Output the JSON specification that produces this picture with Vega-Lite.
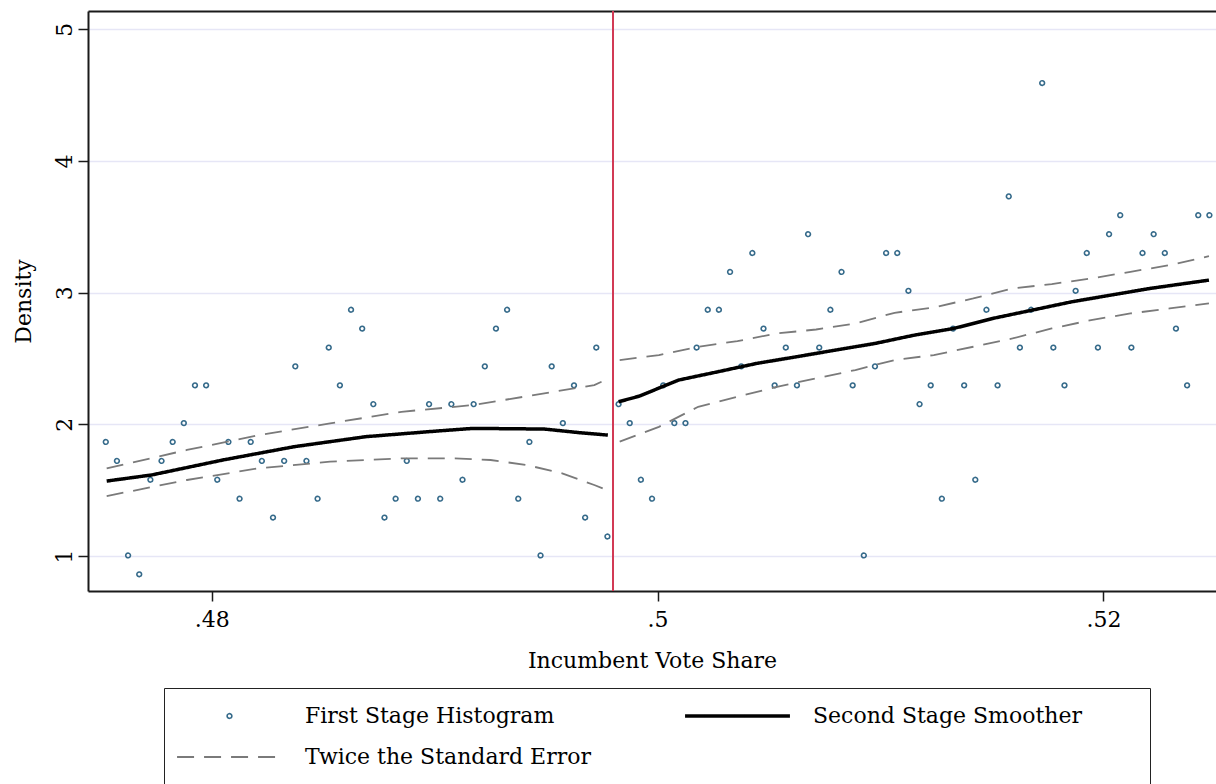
{
  "$schema": "https://vega.github.io/schema/vega-lite/v6.json",
  "width": 1128,
  "height": 580,
  "autosize": {"type": "none"},
  "padding": {"left": 88, "top": 11, "right": 0, "bottom": 193},
  "background": "white",
  "config": {
    "view": {"stroke": null},
    "font": "DejaVu Serif",
    "axis": {
      "labelFont": "DejaVu Serif",
      "titleFont": "DejaVu Serif",
      "labelColor": "black",
      "titleColor": "black",
      "labelFontSize": 22,
      "titleFontSize": 22,
      "titleFontWeight": "normal",
      "domainColor": "#1a1a1a",
      "domainWidth": 2,
      "tickColor": "#1a1a1a",
      "tickWidth": 1.5,
      "tickSize": 10
    }
  },
  "datasets": {
    "hist": [
      {"x": 0.47525, "y": 1.866}, {"x": 0.47575, "y": 1.722}, {"x": 0.47625, "y": 1.004}, {"x": 0.47675, "y": 0.861},
      {"x": 0.47725, "y": 1.579}, {"x": 0.47775, "y": 1.722}, {"x": 0.47825, "y": 1.866}, {"x": 0.47875, "y": 2.009},
      {"x": 0.47925, "y": 2.296}, {"x": 0.47975, "y": 2.296}, {"x": 0.48025, "y": 1.579}, {"x": 0.48075, "y": 1.866},
      {"x": 0.48125, "y": 1.435}, {"x": 0.48175, "y": 1.866}, {"x": 0.48225, "y": 1.722}, {"x": 0.48275, "y": 1.292},
      {"x": 0.48325, "y": 1.722}, {"x": 0.48375, "y": 2.44}, {"x": 0.48425, "y": 1.722}, {"x": 0.48475, "y": 1.435},
      {"x": 0.48525, "y": 2.583}, {"x": 0.48575, "y": 2.296}, {"x": 0.48625, "y": 2.87}, {"x": 0.48675, "y": 2.727},
      {"x": 0.48725, "y": 2.153}, {"x": 0.48775, "y": 1.292}, {"x": 0.48825, "y": 1.435}, {"x": 0.48875, "y": 1.722},
      {"x": 0.48925, "y": 1.435}, {"x": 0.48975, "y": 2.153}, {"x": 0.49025, "y": 1.435}, {"x": 0.49075, "y": 2.153},
      {"x": 0.49125, "y": 1.579}, {"x": 0.49175, "y": 2.153}, {"x": 0.49225, "y": 2.44}, {"x": 0.49275, "y": 2.727},
      {"x": 0.49325, "y": 2.87}, {"x": 0.49375, "y": 1.435}, {"x": 0.49425, "y": 1.866}, {"x": 0.49475, "y": 1.004},
      {"x": 0.49525, "y": 2.44}, {"x": 0.49575, "y": 2.009}, {"x": 0.49625, "y": 2.296}, {"x": 0.49675, "y": 1.292},
      {"x": 0.49725, "y": 2.583}, {"x": 0.49775, "y": 1.148},
      {"x": 0.49825, "y": 2.153}, {"x": 0.49875, "y": 2.009}, {"x": 0.49925, "y": 1.579}, {"x": 0.49975, "y": 1.435},
      {"x": 0.50025, "y": 2.296}, {"x": 0.50075, "y": 2.009}, {"x": 0.50125, "y": 2.009}, {"x": 0.50175, "y": 2.583},
      {"x": 0.50225, "y": 2.87}, {"x": 0.50275, "y": 2.87}, {"x": 0.50325, "y": 3.157}, {"x": 0.50375, "y": 2.44},
      {"x": 0.50425, "y": 3.301}, {"x": 0.50475, "y": 2.727}, {"x": 0.50525, "y": 2.296}, {"x": 0.50575, "y": 2.583},
      {"x": 0.50625, "y": 2.296}, {"x": 0.50675, "y": 3.444}, {"x": 0.50725, "y": 2.583}, {"x": 0.50775, "y": 2.87},
      {"x": 0.50825, "y": 3.157}, {"x": 0.50875, "y": 2.296}, {"x": 0.50925, "y": 1.004}, {"x": 0.50975, "y": 2.44},
      {"x": 0.51025, "y": 3.301}, {"x": 0.51075, "y": 3.301}, {"x": 0.51125, "y": 3.014}, {"x": 0.51175, "y": 2.153},
      {"x": 0.51225, "y": 2.296}, {"x": 0.51275, "y": 1.435}, {"x": 0.51325, "y": 2.727}, {"x": 0.51375, "y": 2.296},
      {"x": 0.51425, "y": 1.579}, {"x": 0.51475, "y": 2.87}, {"x": 0.51525, "y": 2.296}, {"x": 0.51575, "y": 3.731},
      {"x": 0.51625, "y": 2.583}, {"x": 0.51675, "y": 2.87}, {"x": 0.51725, "y": 4.592}, {"x": 0.51775, "y": 2.583},
      {"x": 0.51825, "y": 2.296}, {"x": 0.51875, "y": 3.014}, {"x": 0.51925, "y": 3.301}, {"x": 0.51975, "y": 2.583},
      {"x": 0.52025, "y": 3.444}, {"x": 0.52075, "y": 3.588}, {"x": 0.52125, "y": 2.583}, {"x": 0.52175, "y": 3.301},
      {"x": 0.52225, "y": 3.444}, {"x": 0.52275, "y": 3.301}, {"x": 0.52325, "y": 2.727}, {"x": 0.52375, "y": 2.296},
      {"x": 0.52425, "y": 3.588}, {"x": 0.52475, "y": 3.588}
    ],
    "smooth": [
      {"part": "L", "x": 0.47529, "y": 1.569}, {"part": "L", "x": 0.4773, "y": 1.615}, {"part": "L", "x": 0.4805, "y": 1.729},
      {"part": "L", "x": 0.4837, "y": 1.83}, {"part": "L", "x": 0.48691, "y": 1.906}, {"part": "L", "x": 0.49011, "y": 1.949},
      {"part": "L", "x": 0.49172, "y": 1.969}, {"part": "L", "x": 0.49492, "y": 1.964}, {"part": "L", "x": 0.49652, "y": 1.936},
      {"part": "L", "x": 0.49777, "y": 1.918},
      {"part": "R", "x": 0.49825, "y": 2.171}, {"part": "R", "x": 0.49918, "y": 2.214}, {"part": "R", "x": 0.50094, "y": 2.336},
      {"part": "R", "x": 0.5027, "y": 2.399}, {"part": "R", "x": 0.50446, "y": 2.463}, {"part": "R", "x": 0.50623, "y": 2.513},
      {"part": "R", "x": 0.50799, "y": 2.564}, {"part": "R", "x": 0.50975, "y": 2.614}, {"part": "R", "x": 0.51151, "y": 2.677},
      {"part": "R", "x": 0.51328, "y": 2.728}, {"part": "R", "x": 0.51503, "y": 2.804}, {"part": "R", "x": 0.5168, "y": 2.867},
      {"part": "R", "x": 0.51856, "y": 2.93}, {"part": "R", "x": 0.52032, "y": 2.981}, {"part": "R", "x": 0.52209, "y": 3.032},
      {"part": "R", "x": 0.52473, "y": 3.095}
    ],
    "se": [
      {"part": "LU", "x": 0.47529, "y": 1.666}, {"part": "LU", "x": 0.47889, "y": 1.805}, {"part": "LU", "x": 0.4821, "y": 1.918},
      {"part": "LU", "x": 0.48531, "y": 2.007}, {"part": "LU", "x": 0.48851, "y": 2.095}, {"part": "LU", "x": 0.49172, "y": 2.146},
      {"part": "LU", "x": 0.49492, "y": 2.235}, {"part": "LU", "x": 0.49716, "y": 2.298}, {"part": "LU", "x": 0.49772, "y": 2.341},
      {"part": "LL", "x": 0.47529, "y": 1.455}, {"part": "LL", "x": 0.47889, "y": 1.577}, {"part": "LL", "x": 0.4821, "y": 1.666},
      {"part": "LL", "x": 0.48531, "y": 1.716}, {"part": "LL", "x": 0.48851, "y": 1.742}, {"part": "LL", "x": 0.49091, "y": 1.742},
      {"part": "LL", "x": 0.49251, "y": 1.729}, {"part": "LL", "x": 0.49412, "y": 1.691}, {"part": "LL", "x": 0.49572, "y": 1.628},
      {"part": "LL", "x": 0.49716, "y": 1.539}, {"part": "LL", "x": 0.49772, "y": 1.501},
      {"part": "RU", "x": 0.4983, "y": 2.488}, {"part": "RU", "x": 0.50006, "y": 2.526}, {"part": "RU", "x": 0.50182, "y": 2.589},
      {"part": "RU", "x": 0.50358, "y": 2.632}, {"part": "RU", "x": 0.50535, "y": 2.69}, {"part": "RU", "x": 0.50711, "y": 2.72},
      {"part": "RU", "x": 0.50887, "y": 2.766}, {"part": "RU", "x": 0.51063, "y": 2.847}, {"part": "RU", "x": 0.51239, "y": 2.888},
      {"part": "RU", "x": 0.51416, "y": 2.956}, {"part": "RU", "x": 0.51592, "y": 3.032}, {"part": "RU", "x": 0.51768, "y": 3.065},
      {"part": "RU", "x": 0.51944, "y": 3.108}, {"part": "RU", "x": 0.52121, "y": 3.158}, {"part": "RU", "x": 0.52297, "y": 3.209},
      {"part": "RU", "x": 0.52473, "y": 3.277},
      {"part": "RL", "x": 0.4983, "y": 1.868}, {"part": "RL", "x": 0.50006, "y": 1.981}, {"part": "RL", "x": 0.50182, "y": 2.133},
      {"part": "RL", "x": 0.50358, "y": 2.209}, {"part": "RL", "x": 0.50535, "y": 2.285}, {"part": "RL", "x": 0.50711, "y": 2.349},
      {"part": "RL", "x": 0.50887, "y": 2.412}, {"part": "RL", "x": 0.51063, "y": 2.488}, {"part": "RL", "x": 0.51239, "y": 2.526},
      {"part": "RL", "x": 0.51416, "y": 2.589}, {"part": "RL", "x": 0.51592, "y": 2.652}, {"part": "RL", "x": 0.51768, "y": 2.728},
      {"part": "RL", "x": 0.51944, "y": 2.791}, {"part": "RL", "x": 0.52121, "y": 2.842}, {"part": "RL", "x": 0.52297, "y": 2.88},
      {"part": "RL", "x": 0.52473, "y": 2.918}
    ],
    "cut": [{"x": 0.498}]
  },
  "resolve": {"axis": {"x": "independent"}},
  "layer": [
    {
      "data": {"name": "hist"},
      "mark": {"type": "point", "filled": false, "opacity": 1},
      "encoding": {
        "x": {
          "field": "x", "type": "quantitative",
          "scale": {"domain": [0.474452, 0.525046], "nice": false, "zero": false},
          "axis": {"orient": "bottom", "values": [0.48, 0.5, 0.52], "labelExpr": "slice(format(datum.value, '.2~f'), 1)", "title": "Incumbent Vote Share", "grid": false, "labelPadding": 8, "titlePadding": 20}
        },
        "y": {
          "field": "y", "type": "quantitative",
          "scale": {"domain": [0.734, 5.139], "nice": false, "zero": false},
          "axis": {"values": [1, 2, 3, 4, 5], "format": "d", "labelAngle": 270, "labelAlign": "center", "labelBaseline": "alphabetic", "labelPadding": 7, "title": "Density", "titlePadding": 18, "grid": true, "gridColor": "#e6e6f6", "gridWidth": 1.5}
        },
        "color": {
          "datum": "First Stage Histogram", "type": "nominal",
          "scale": {"domain": ["First Stage Histogram", "Twice the Standard Error", "Second Stage Smoother"], "range": ["#356a8a", "#7a7a7a", "#000000"]},
          "legend": {
            "orient": "none", "legendX": 76, "legendY": 677, "columns": 2, "title": "\u00a0", "titleOrient": "right", "titlePadding": 57,
            "titleFont": "DejaVu Serif", "titleFontSize": 22,
            "padding": 11, "strokeColor": "#222222", "fillColor": "white",
            "labelFont": "DejaVu Serif", "labelFontSize": 22, "labelColor": "black", "labelLimit": 0, "labelOffset": 21,
            "clipHeight": 34, "rowPadding": 7, "columnPadding": 92
          }
        },
        "shape": {
          "datum": "First Stage Histogram", "type": "nominal",
          "scale": {"domain": ["First Stage Histogram", "Twice the Standard Error", "Second Stage Smoother"], "range": ["circle", "stroke", "stroke"]}
        },
        "size": {
          "datum": "First Stage Histogram", "type": "nominal",
          "scale": {"type": "ordinal", "domain": ["First Stage Histogram", "Twice the Standard Error", "Second Stage Smoother"], "range": [22, 11000, 11000]}
        },
        "strokeWidth": {
          "datum": "First Stage Histogram", "type": "nominal",
          "scale": {"type": "ordinal", "domain": ["First Stage Histogram", "Twice the Standard Error", "Second Stage Smoother"], "range": [1.6, 1.8, 3.5]}
        },
        "strokeDash": {
          "datum": "First Stage Histogram", "type": "nominal",
          "scale": {"domain": ["First Stage Histogram", "Twice the Standard Error", "Second Stage Smoother"], "range": [[1, 0], [17, 10], [1, 0]]}
        }
      }
    },
    {
      "data": {"name": "se"},
      "mark": {"type": "line", "strokeWidth": 1.8},
      "encoding": {
        "x": {"field": "x", "type": "quantitative", "axis": {"orient": "top", "labels": false, "ticks": false, "title": null, "grid": false, "domain": true}},
        "y": {"field": "y", "type": "quantitative"},
        "detail": {"field": "part"},
        "color": {"datum": "Twice the Standard Error", "type": "nominal"},
        "strokeDash": {"datum": "Twice the Standard Error", "type": "nominal"}
      }
    },
    {
      "data": {"name": "smooth"},
      "mark": {"type": "line", "strokeWidth": 3.5},
      "encoding": {
        "x": {"field": "x", "type": "quantitative", "axis": null},
        "y": {"field": "y", "type": "quantitative"},
        "detail": {"field": "part"},
        "color": {"datum": "Second Stage Smoother", "type": "nominal"},
        "strokeDash": {"datum": "Second Stage Smoother", "type": "nominal"}
      }
    },
    {
      "data": {"name": "cut"},
      "mark": {"type": "rule", "color": "#d23a55", "strokeWidth": 2},
      "encoding": {
        "x": {"field": "x", "type": "quantitative", "axis": null}
      }
    }
  ]
}
